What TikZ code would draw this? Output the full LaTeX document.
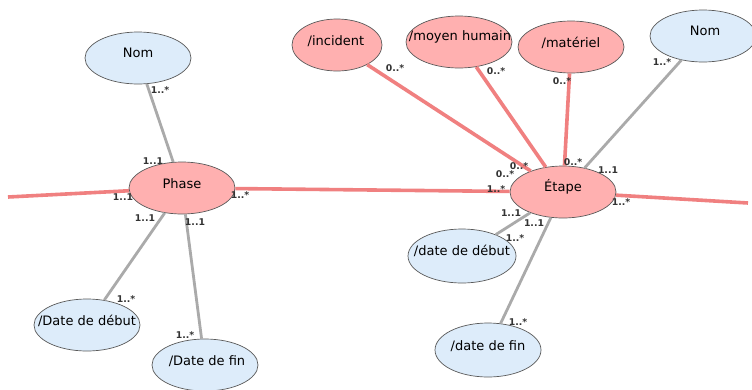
\documentclass[tikz,border=0pt]{standalone}
\usepackage{fontspec}
\setmainfont{DejaVu Sans}
\usetikzlibrary{shapes.geometric}
\definecolor{redfill}{RGB}{255,176,176}
\definecolor{bluefill}{RGB}{221,236,250}
\definecolor{redline}{RGB}{240,128,128}
\definecolor{grayline}{RGB}{170,170,170}
\definecolor{edge}{RGB}{90,90,90}
\tikzset{
  ent/.style={ellipse, draw=edge, line width=0.7pt, minimum width=106pt, minimum height=52pt, inner sep=0pt},
  redent/.style={ent, fill=redfill},
  blueent/.style={ent, fill=bluefill},
  etxt/.style={font=\fontsize{13}{15}\selectfont, text=black, inner sep=0pt},
  redlink/.style={draw=redline, line width=3.6pt},
  graylink/.style={draw=grayline, line width=2.8pt},
  mult/.style={font=\bfseries\fontsize{9.3}{10}\selectfont, text=black!80, inner sep=0pt}
}
\begin{document}
\begin{tikzpicture}[x=1pt,y=-1pt]
\useasboundingbox[fill=white] (0,0) rectangle (752,389);
% entities
\node[blueent] (nomA) at (138,58) {};
\node[redent] (phase) at (182,188) {};
\node[redent, minimum width=90pt] (incident) at (337,45) {};
\node[redent] (moyen) at (459,42) {};
\node[redent] (materiel) at (571,47) {};
\node[blueent] (nomB) at (703,36) {};
\node[redent] (etape) at (563,192) {};
\node[blueent] (ddebA) at (87,325) {};
\node[blueent] (dfinA) at (205,365) {};
\node[blueent, minimum width=108pt, minimum height=54pt] (ddebB) at (462,256) {};
\node[blueent, minimum height=54pt] (dfinB) at (488,350) {};
% texts
\node[etxt] (tNomA) at (138,53) {Nom};
\node[etxt] (tPhase) at (182,184) {Phase};
\node[etxt] (tIncident) at (336,41) {/incident};
\node[etxt] (tMoyen) at (460,37) {/moyen humain};
\node[etxt] (tMateriel) at (571,43) {/matériel};
\node[etxt] (tNomB) at (705,31) {Nom};
\node[etxt] (tEtape) at (563,187) {Étape};
\node[etxt] (tDdebA) at (87,321) {/Date de début};
\node[etxt] (tDfinA) at (207,361) {/Date de fin};
\node[etxt] (tDdebB) at (462,251) {/date de début};
\node[etxt] (tDfinB) at (488,346) {/date de fin};
% free ends
\coordinate (leftEnd) at (8,197);
\coordinate (rightEnd) at (748,203);
% red links
\draw[redlink] (leftEnd) -- (phase);
\draw[redlink] (phase) -- (etape);
\draw[redlink] (etape) -- (rightEnd);
\draw[redlink] (incident) -- (etape);
\draw[redlink] (moyen) -- (etape);
\draw[redlink] (materiel) -- (etape);
% gray links
\draw[graylink] (nomA) -- (phase);
\draw[graylink] (phase) -- (ddebA);
\draw[graylink] (phase) -- (dfinA);
\draw[graylink] (nomB) -- (etape);
\draw[graylink] (etape) -- (ddebB);
\draw[graylink] (etape) -- (dfinB);
% multiplicities
\node[mult] (m1) at (160,90) {1..*};
\node[mult] (m2) at (153,161) {1..1};
\node[mult] (m3) at (123,197) {1..1};
\node[mult] (m4) at (240,195) {1..*};
\node[mult] (m5) at (145,218) {1..1};
\node[mult] (m6) at (195,222) {1..1};
\node[mult] (m7) at (126,299) {1..*};
\node[mult] (m8) at (185,335) {1..*};
\node[mult] (m9) at (395,68) {0..*};
\node[mult] (m10) at (496,71) {0..*};
\node[mult] (m11) at (562,81) {0..*};
\node[mult] (m12) at (662,62) {1..*};
\node[mult] (m14) at (505,174) {0..*};
\node[mult] (m13) at (519,166) {0..*};
\node[mult] (m15) at (573,162) {0..*};
\node[mult] (m16) at (608,170) {1..1};
\node[mult] (m17) at (496,189) {1..*};
\node[mult] (m18) at (621,202) {1..*};
\node[mult] (m19) at (511,213) {1..1};
\node[mult] (m20) at (534,223) {1..1};
\node[mult] (m21) at (515,238) {1..*};
\node[mult] (m22) at (518,322) {1..*};
\end{tikzpicture}
\end{document}
